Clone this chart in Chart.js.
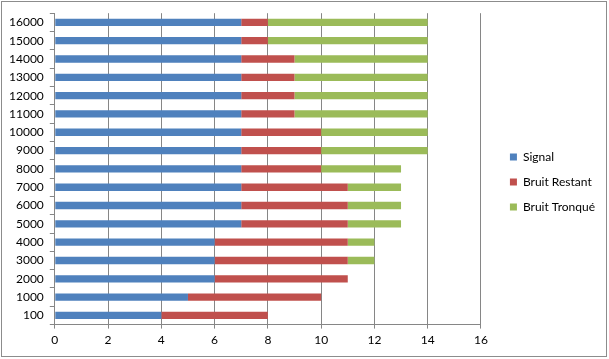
<!DOCTYPE html>
<html>
<head>
<meta charset="utf-8">
<script src="https://cdn.jsdelivr.net/npm/chart.js@4.4.1/dist/chart.umd.min.js"></script>
<style>
html,body{margin:0;padding:0;background:#fff;}
#wrap{position:relative;width:609px;height:359px;}
</style>
</head>
<body>
<div id="wrap"><canvas id="c" width="609" height="359"></canvas></div>
<script>
const categories = ["100","1000","2000","3000","4000","5000","6000","7000","8000","9000","10000","11000","12000","13000","14000","15000","16000"];
const signal       = [4, 5, 6, 6, 6, 7, 7, 7, 7, 7, 7, 7, 7, 7, 7, 7, 7];
const bruitRestant = [4, 5, 5, 5, 5, 4, 4, 4, 3, 3, 3, 2, 2, 2, 2, 1, 1];
const bruitTronque = [0, 0, 0, 1, 1, 2, 2, 2, 3, 4, 4, 5, 5, 5, 5, 6, 6];
const xTicks = [0, 2, 4, 6, 8, 10, 12, 14, 16];

const FONT = "Lato, 'Open Sans', sans-serif";
const GRID = '#868686';

const framePlugin = {
  id: 'frame',
  afterLayout(chart) {
    const lg = chart.legend;
    if (lg) {
      const dx = 16, dy = 0;
      lg.left += dx; lg.right += dx;
      lg.top += dy; lg.bottom += dy;
    }
  },
  beforeDraw(chart) {
    const ctx = chart.ctx;
    ctx.save();
    ctx.fillStyle = '#fff';
    ctx.fillRect(0, 0, chart.width, chart.height);
    ctx.strokeStyle = '#8c8c8c';
    ctx.lineWidth = 1;
    ctx.strokeRect(1.5, 1.5, 605, 355);
    ctx.restore();
  }
};

new Chart(document.getElementById('c'), {
  type: 'bar',
  data: {
    labels: categories,
    datasets: [
      { label: 'Signal', data: signal, backgroundColor: '#4F81BD' },
      { label: 'Bruit Restant', data: bruitRestant, backgroundColor: '#C0504D' },
      { label: 'Bruit Tronqué', data: bruitTronque, backgroundColor: '#9BBB59' }
    ]
  },
  options: {
    indexAxis: 'y',
    responsive: false,
    animation: false,
    devicePixelRatio: 1,
    datasets: { bar: { barPercentage: 0.8, categoryPercentage: 0.5 } },
    layout: { padding: { top: 13, left: 3, right: 20, bottom: 8 } },
    scales: {
      x: {
        stacked: true,
        min: 0, max: 16,
        afterBuildTicks(scale) { scale.ticks = xTicks.map(v => ({ value: v })); },
        ticks: { color: '#000', font: { family: FONT, size: 12 }, padding: 4 },
        grid: { color: GRID, tickLength: 4, lineWidth: 1 },
        border: { color: GRID }
      },
      y: {
        stacked: true,
        reverse: true,
        ticks: { color: '#000', font: { family: FONT, size: 12 }, padding: 6 },
        grid: { drawOnChartArea: false, drawTicks: true, tickLength: 5, color: GRID, offset: true },
        border: { color: GRID }
      }
    },
    plugins: {
      legend: {
        position: 'right',
        labels: {
          boxWidth: 7, boxHeight: 7, padding: 13,
          color: '#000',
          font: { family: FONT, size: 12 }
        }
      },
      tooltip: { enabled: false }
    }
  },
  plugins: [framePlugin]
});
</script>
</body>
</html>
